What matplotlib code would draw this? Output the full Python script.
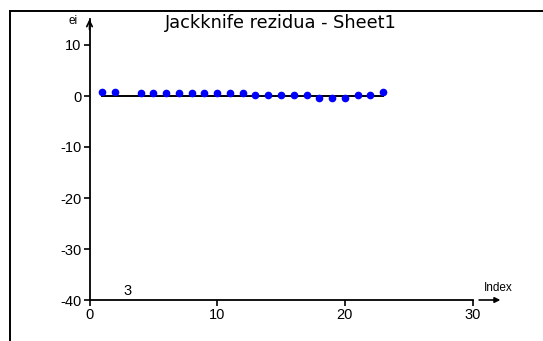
import matplotlib
matplotlib.use("Agg")
import matplotlib.pyplot as plt
from matplotlib.lines import Line2D

plt.rcParams['font.family'] = ['Liberation Sans', 'DejaVu Sans']
plt.rcParams['axes.unicode_minus'] = False

# jackknife residuals per observation (obs 3 is far below the plotted range)
index = [1, 2, 3, 4, 5, 6, 7, 8, 9, 10, 11, 12,
         13, 14, 15, 16, 17, 18, 19, 20, 21, 22, 23]
residua = [0.8, 0.8, -45.0, 0.5, 0.5, 0.5, 0.5, 0.5, 0.5, 0.5, 0.5, 0.5,
           0.1, 0.1, 0.1, 0.1, 0.1, -0.3, -0.3, -0.3, 0.1, 0.1, 0.8]
outlier_labels = {3: "3"}

xticks = [0, 10, 20, 30]
yticks = [-40, -30, -20, -10, 0, 10]

W, H = 543, 341
fig = plt.figure(figsize=(W / 100, H / 100), dpi=100)

def px(x, y):
    # pixel position (from top-left) -> figure fraction
    return x / W, 1 - y / H

# axes: x 0..30 -> px 89..472, y -40..10 -> px 300..45
l, b = px(89.5, 300)
r, t = px(472.5, 45)
ax = fig.add_axes([l, b, r - l, t - b])
ax.set_xlim(0, 30)
ax.set_ylim(-40, 10)
ax.patch.set_visible(False)
for s in ['top', 'right', 'left', 'bottom']:
    ax.spines[s].set_visible(False)

ax.set_xticks(xticks)
ax.set_yticks(yticks)
ax.tick_params(direction='out', length=4, width=1.2, labelsize=10.5, pad=2,
               colors='black')

# axis lines with arrows
ax.plot([0, 0], [-40, 15.0], color='black', lw=1.3, clip_on=False)
ax.annotate('', xy=(0, 15.6), xytext=(0, 12.5), annotation_clip=False,
            arrowprops=dict(arrowstyle='->', color='black', lw=1.2))
ax.plot([0, 30], [-40, -40], color='black', lw=1.3, clip_on=False)
ax.annotate('', xy=(32.4, -40), xytext=(30.3, -40), annotation_clip=False,
            arrowprops=dict(arrowstyle='-|>', color='black', lw=1.2,
                            mutation_scale=8))
ax.text(32.0, -37.6, 'Index', fontsize=8.5, ha='center', va='center',
        clip_on=False)
ax.text(-1.3, 14.8, 'ei', fontsize=8.5, ha='center', va='center')

# zero reference line and residuals
ax.plot([index[0], index[-1]], [0, 0], color='black', lw=1.4)
ax.plot(index, residua, 'o', color='#0000ff', ms=4.5, mec='#0000ff')

for i, v in zip(index, residua):
    if i in outlier_labels:
        ax.text(i, max(v, -40) + 0.4, outlier_labels[i], fontsize=10.5,
                ha='center', va='bottom')

fig.text(*px(281, 28.5), 'Jackknife rezidua - Sheet1', fontsize=12.8,
         family='DejaVu Sans', ha='center', va='baseline')

# outer frame (left and top edges)
fig.add_artist(Line2D([9.5 / W, 9.5 / W], [0, 1 - 10.5 / H],
                      transform=fig.transFigure, color='black', lw=1.4))
fig.add_artist(Line2D([9.5 / W, 1], [1 - 10.5 / H, 1 - 10.5 / H],
                      transform=fig.transFigure, color='black', lw=1.4))

fig.savefig('out.png', dpi=100)
